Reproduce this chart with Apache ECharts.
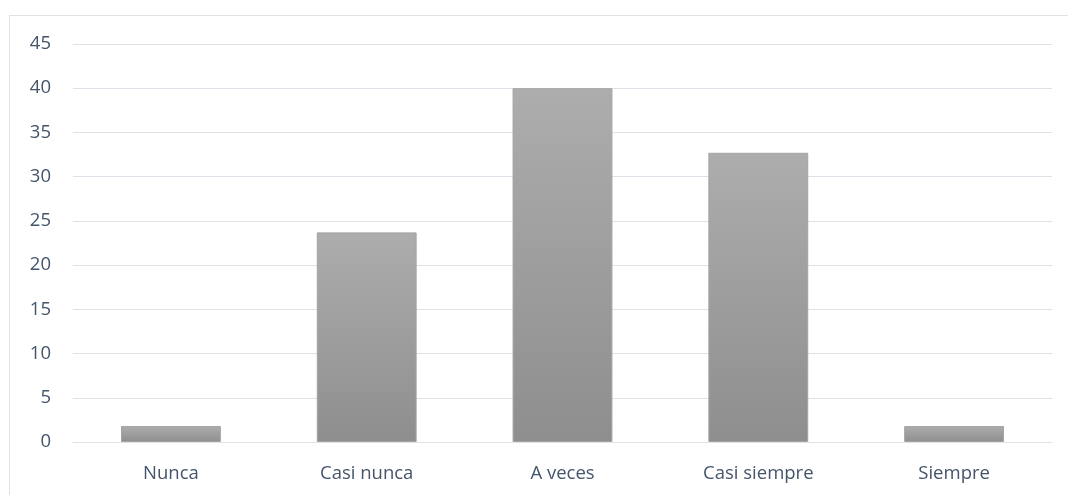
<!DOCTYPE html>
<html>
<head>
<meta charset="utf-8">
<script src="https://cdn.jsdelivr.net/npm/echarts@6/dist/echarts.min.js"></script>
<style>
  html, body { margin: 0; padding: 0; background: #fff; }
  #frame { position: absolute; left: 9px; top: 15px; width: 1080px; height: 500px;
           border-left: 1px solid #dfe2e6; border-top: 1px solid #dfe2e6; }
  #chart { position: absolute; left: 0; top: 0; width: 1068px; height: 495px; }
</style>
</head>
<body>
<div id="frame"></div>
<div id="chart"></div>
<script>
// Frequency categories and their values
const categories = ['Nunca', 'Casi nunca', 'A veces', 'Casi siempre', 'Siempre'];
const values = [1.8, 23.7, 40.0, 32.7, 1.8];
const yTicks = { min: 0, max: 45, interval: 5 };

const textColor = '#44546a';
const gridColor = '#dde2e8';
const font = '"Open Sans", sans-serif';

const chart = echarts.init(document.getElementById('chart'), null, { renderer: 'canvas' });
chart.setOption({
  animation: false,
  backgroundColor: 'transparent',
  grid: { left: 73, right: 16, top: 44, bottom: 53, containLabel: false },
  xAxis: {
    type: 'category',
    data: categories,
    axisLine: { show: true, lineStyle: { color: gridColor, width: 1 } },
    axisTick: { show: false },
    axisLabel: { color: textColor, fontSize: 18.5, fontFamily: font, margin: 22 }
  },
  yAxis: {
    type: 'value',
    min: yTicks.min, max: yTicks.max, interval: yTicks.interval,
    axisLine: { show: false },
    axisTick: { show: false },
    splitLine: { lineStyle: { color: gridColor, width: 1 } },
    axisLabel: { color: textColor, fontSize: 18.5, fontFamily: font, margin: 22 }
  },
  series: [{
    type: 'bar',
    data: values,
    barCategoryGap: '49%',
    itemStyle: {
      color: new echarts.graphic.LinearGradient(0, 0, 0, 1, [
        { offset: 0, color: '#adadad' },
        { offset: 1, color: '#8e8e8e' }
      ]),
      borderColor: '#a3a3a3',
      borderWidth: 1
    }
  }]
});
</script>
</body>
</html>
